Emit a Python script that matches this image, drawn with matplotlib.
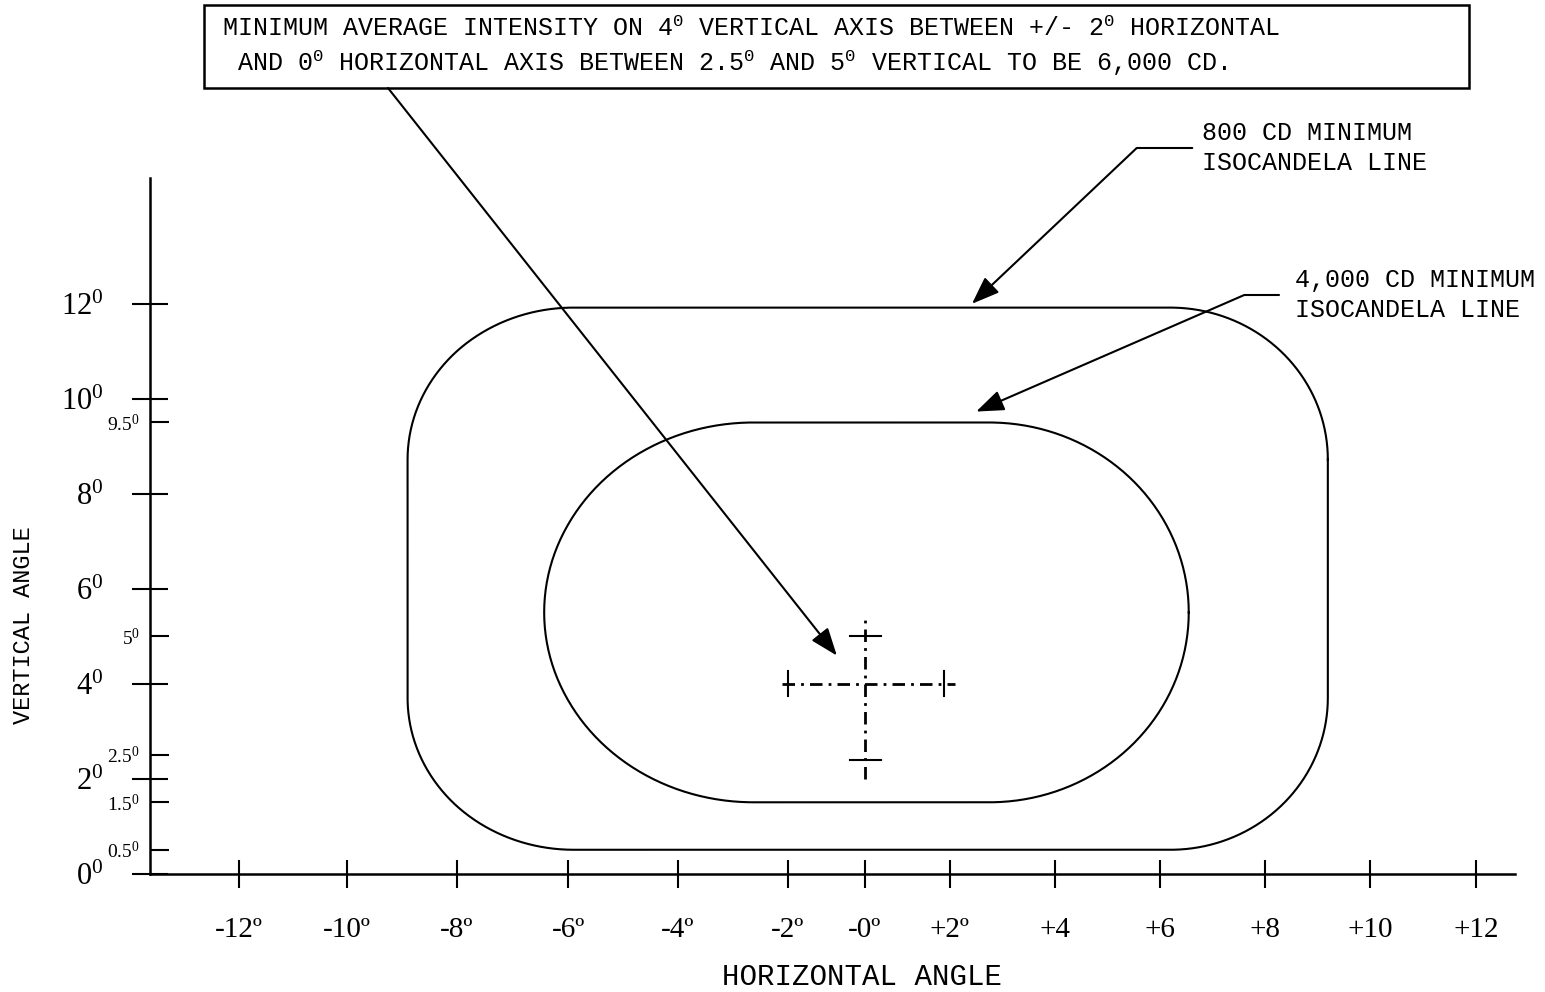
import numpy as np
import matplotlib
matplotlib.use("Agg")
import matplotlib.pyplot as plt
from matplotlib.patches import Rectangle

plt.rcParams["font.family"] = ["Liberation Serif", "DejaVu Serif"]
plt.rcParams["mathtext.fontset"] = "custom"
plt.rcParams["mathtext.rm"] = "Liberation Serif"
plt.rcParams["mathtext.it"] = "Liberation Serif:italic"
plt.rcParams["mathtext.tt"] = "Liberation Mono"

MONO = ["Liberation Mono", "DejaVu Sans Mono"]
INK = "black"

# axis ticks (degrees)
X_TICKS = [-12, -10, -8, -6, -4, -2, 0, 2, 4, 6, 8, 10, 12]
X_LABELS = ["-12º", "-10º", "-8º", "-6º", "-4º", "-2º", "-0º", "+2º",
            "+4", "+6", "+8", "+10", "+12"]
Y_MAJOR = [0, 2, 4, 6, 8, 10, 12]
Y_MAJOR_LABELS = [r"%d$^{\mathrm{0}}$" % v for v in Y_MAJOR]
Y_MINOR = [0.5, 1.5, 2.5, 5, 9.5]
Y_MINOR_LABELS = [r"0.5$^{\mathrm{0}}$", r"1.5$^{\mathrm{0}}$", r"2.5$^{\mathrm{0}}$",
                  r"5$^{\mathrm{0}}$", r"9.5$^{\mathrm{0}}$"]

# isocandela outlines: horizontal extent, vertical extent, corner radii (deg)
OUTER_H = (-8.9, 9.2)
OUTER_V = (0.5, 11.92)
OUTER_R = (3.0, 3.2)
INNER_H = (-6.43, 6.55)
INNER_V = (1.5, 9.5)
INNER_R = (3.8, 4.0)

# measuring cross
CROSS_H = (-2.1, 2.1)      # horizontal axis at 4 deg
CROSS_V = (2.0, 5.4)       # vertical axis at 0 deg
CROSS_Y = 4.0
CROSS_H_BARS = [-2.0, 1.85]
CROSS_V_BARS = [2.4, 5.0]

# arrow targets (deg)
TIP_NOTE = (-0.73, 4.59)
TIP_800 = (2.42, 12.0)
TIP_4000 = (2.5, 9.73)

NOTE = ("MINIMUM AVERAGE INTENSITY ON 4$^{\\mathtt{0}}$ VERTICAL AXIS BETWEEN +/- 2$^{\\mathtt{0}}$ HORIZONTAL\n"
        " AND 0$^{\\mathtt{0}}$ HORIZONTAL AXIS BETWEEN 2.5$^{\\mathtt{0}}$ AND 5$^{\\mathtt{0}}$ VERTICAL TO BE 6,000 CD.")

# drawing is not to scale horizontally: tick spacing warps around 0
SCALE_DEG = [-20, -12, -10, -8, -6, -4, -2, 0, 2, 4, 6, 8, 10, 12, 20]
SCALE_POS = [-193, 239, 347, 457, 568, 678, 788, 865, 950, 1055, 1160, 1265, 1370, 1476, 1900]


def fwd(x):
    return np.interp(x, SCALE_DEG, SCALE_POS)


def inv(p):
    return np.interp(p, SCALE_POS, SCALE_DEG)


def rounded_rect(h, v, r, n=80):
    x0, x1 = h
    y0, y1 = v
    rx, ry = r
    t = np.linspace(0, np.pi / 2, n)
    xs, ys = [], []
    for cx, cy, a in [(x1 - rx, y1 - ry, 0), (x0 + rx, y1 - ry, np.pi / 2),
                      (x0 + rx, y0 + ry, np.pi), (x1 - rx, y0 + ry, 1.5 * np.pi)]:
        xs.append(cx + rx * np.cos(t + a))
        ys.append(cy + ry * np.sin(t + a))
    xs = np.concatenate(xs + [xs[0][:1]])
    ys = np.concatenate(ys + [ys[0][:1]])
    return xs, ys


W, H = 1545, 992
fig = plt.figure(figsize=(W / 100, H / 100), dpi=100)
fig.patch.set_facecolor("white")
ax = fig.add_axes([149.5 / W, (H - 873.5) / H, (1515 - 149.5) / W, (873.5 - 178) / H])
ax.set_xscale("function", functions=(fwd, inv))
ax.set_xlim(-13.66, 12.74)
ax.set_ylim(0, 14.65)

for s in ["top", "right"]:
    ax.spines[s].set_visible(False)
for s in ["left", "bottom"]:
    ax.spines[s].set_linewidth(1.8)

ax.set_xticks(X_TICKS, labels=X_LABELS)
ax.set_yticks(Y_MAJOR, labels=Y_MAJOR_LABELS)
ax.set_yticks(Y_MINOR, labels=Y_MINOR_LABELS, minor=True)
ax.tick_params(axis="x", direction="inout", length=20, width=1.5, pad=21, labelsize=21)
ax.tick_params(axis="y", which="major", direction="inout", length=26, width=1.5, pad=20, labelsize=22)
ax.tick_params(axis="y", which="minor", direction="in", length=14, width=1.5, pad=7, labelsize=14)

ax.set_xlabel("HORIZONTAL ANGLE", family=MONO, fontsize=21, va="center")
ax.xaxis.set_label_coords(0.5218, -0.1488)
ax.set_ylabel("VERTICAL ANGLE", family=MONO, fontsize=17, va="center")
ax.yaxis.set_label_coords(-0.0926, 0.357)

# isocandela lines
for h, v, r in [(OUTER_H, OUTER_V, OUTER_R), (INNER_H, INNER_V, INNER_R)]:
    xs, ys = rounded_rect(h, v, r)
    ax.plot(xs, ys, color=INK, lw=1.5)

# measuring cross
dashdot = (0, (4.5, 2.2, 1, 2.2))
ax.plot(CROSS_H, [CROSS_Y, CROSS_Y], color=INK, lw=2, linestyle=dashdot)
ax.plot([0, 0], CROSS_V, color=INK, lw=2, linestyle=dashdot)
for xb in CROSS_H_BARS:
    ax.plot([xb, xb], [CROSS_Y - 0.26, CROSS_Y + 0.26], color=INK, lw=1.5)
for yb in CROSS_V_BARS:
    ax.plot([-0.4, 0.38], [yb, yb], color=INK, lw=1.5)

head = dict(arrowstyle="-|>,head_length=0.85,head_width=0.32", mutation_scale=20,
            color=INK, lw=1.5, shrinkB=0)

# note box
fig.patches.append(Rectangle((204 / W, (H - 88) / H), (1469 - 204) / W, 83 / H,
                             transform=fig.transFigure, fill=False, ec=INK, lw=1.8))
fig.text(222 / W, (H - 47.5) / H, NOTE, family=MONO, fontsize=18, ha="left", va="center",
         linespacing=1.35)
ax.annotate("", xy=TIP_NOTE, xycoords="data", xytext=(388, H - 88),
            textcoords="figure pixels", annotation_clip=False,
            arrowprops=dict(head, shrinkA=0))

ax.annotate("800 CD MINIMUM\nISOCANDELA LINE", xy=TIP_800, xycoords="data",
            xytext=(1202, H - 148), textcoords="figure pixels",
            family=MONO, fontsize=18, ha="left", va="center", linespacing=1.3,
            annotation_clip=False,
            arrowprops=dict(head, shrinkA=5, relpos=(0, 0.5),
                            connectionstyle="angle,angleA=0,angleB=43.4,rad=0"))
ax.annotate("4,000 CD MINIMUM\nISOCANDELA LINE", xy=TIP_4000, xycoords="data",
            xytext=(1295, H - 295), textcoords="figure pixels",
            family=MONO, fontsize=18, ha="left", va="center", linespacing=1.3,
            annotation_clip=False,
            arrowprops=dict(head, shrinkA=9.5, relpos=(0, 0.5),
                            connectionstyle="angle,angleA=0,angleB=23.5,rad=0"))

fig.savefig("out.png", dpi=100, facecolor="white")
plt.close(fig)
